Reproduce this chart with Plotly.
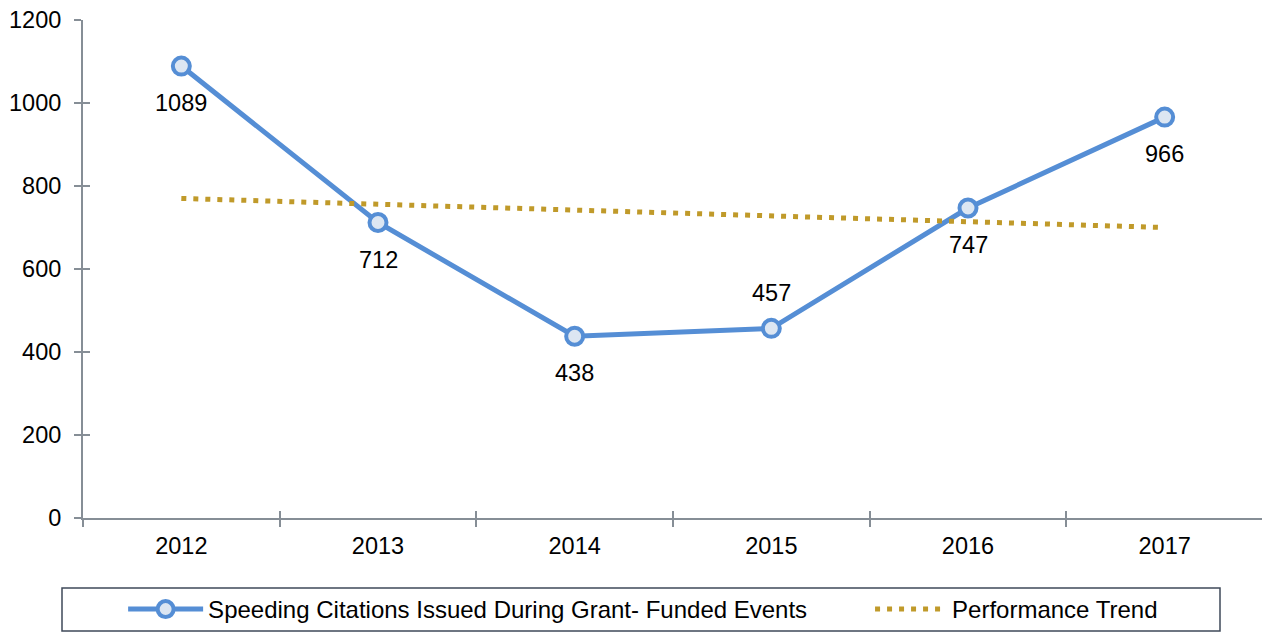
import plotly.graph_objects as go

years = ["2012", "2013", "2014", "2015", "2016", "2017"]
citations = [1089, 712, 438, 457, 747, 966]
label_pos = ["below", "below", "below", "above", "below", "below"]
trend_years = ["2012", "2017"]
trend_values = [770, 700]

series_name = "Speeding Citations Issued During Grant- Funded Events"
trend_name = "Performance Trend"

BLUE = "#558ed5"
FILL = "#dce6f2"
GOLD = "#c09a2a"
AXIS = "#868e96"
FONT = "Arial, Liberation Sans, sans-serif"
FS = 23.5

fig = go.Figure()
fig.add_trace(go.Scatter(
    x=years, y=citations, name=series_name, mode="lines+markers",
    line=dict(color=BLUE, width=5),
    marker=dict(size=17, color=FILL, line=dict(color=BLUE, width=4)),
    legend="legend",
))
fig.add_trace(go.Scatter(
    x=trend_years, y=trend_values, name=trend_name, mode="lines",
    line=dict(color=GOLD, width=5, dash="5px,7px"),
    legend="legend2",
))
# invisible copy on the overlay axes so their inside tick marks are drawn
fig.add_trace(go.Scatter(
    x=years, y=citations, xaxis="x2", yaxis="y2", mode="markers",
    marker=dict(opacity=0), showlegend=False, hoverinfo="skip",
))

# category axes position annotations by category index
annotations = []
for i, (y, p) in enumerate(zip(citations, label_pos)):
    annotations.append(dict(x=i, y=y, xref="x", yref="y", text=str(y),
                            showarrow=False,
                            yshift=-37 if p == "below" else 35,
                            font=dict(size=FS, color="#000000", family=FONT)))

tick_common = dict(ticklen=7, tickcolor=AXIS, tickwidth=1.5, showgrid=False,
                   zeroline=False, fixedrange=True)

fig.update_layout(
    width=1270, height=632,
    margin=dict(l=75, r=15, t=12, b=122, autoexpand=False),
    paper_bgcolor="white", plot_bgcolor="white",
    font=dict(family=FONT, size=FS, color="#000000"),
    showlegend=True,
    annotations=annotations,
    legend=dict(orientation="h", x=0.034, xanchor="left", y=-0.1386, yanchor="top",
                itemwidth=75, font=dict(size=24, family=FONT),
                bgcolor="rgba(0,0,0,0)"),
    legend2=dict(orientation="h", x=0.667, xanchor="left", y=-0.1386, yanchor="top",
                 itemwidth=72, font=dict(size=24, family=FONT),
                 bgcolor="rgba(0,0,0,0)"),
    xaxis=dict(type="category", range=[-0.5, 5.5], tickson="boundaries",
               ticks="outside", showline=True, linecolor=AXIS, linewidth=2,
               ticklabelstandoff=6, **tick_common),
    yaxis=dict(range=[0, 1200], dtick=200, ticks="outside", showline=True,
               linecolor=AXIS, linewidth=2, ticklabelstandoff=8,
               ticklabeloverflow="allow", **tick_common),
    xaxis2=dict(type="category", overlaying="x", range=[-0.5, 5.5],
                tickson="boundaries", ticks="inside", showticklabels=False,
                showline=False, anchor="y2", **tick_common),
    yaxis2=dict(overlaying="y", range=[0, 1200], dtick=200, ticks="inside",
                showticklabels=False, showline=False, anchor="x2",
                **tick_common),
)

fig.add_shape(type="rect", xref="paper", yref="paper",
              x0=(62 - 83) / 1180, x1=(1220 - 83) / 1180,
              y0=(518 - 631) / 498, y1=(518 - 588) / 498,
              line=dict(color="#3f4a5a", width=1.5), fillcolor="rgba(0,0,0,0)")

fig.write_html("out.html")
